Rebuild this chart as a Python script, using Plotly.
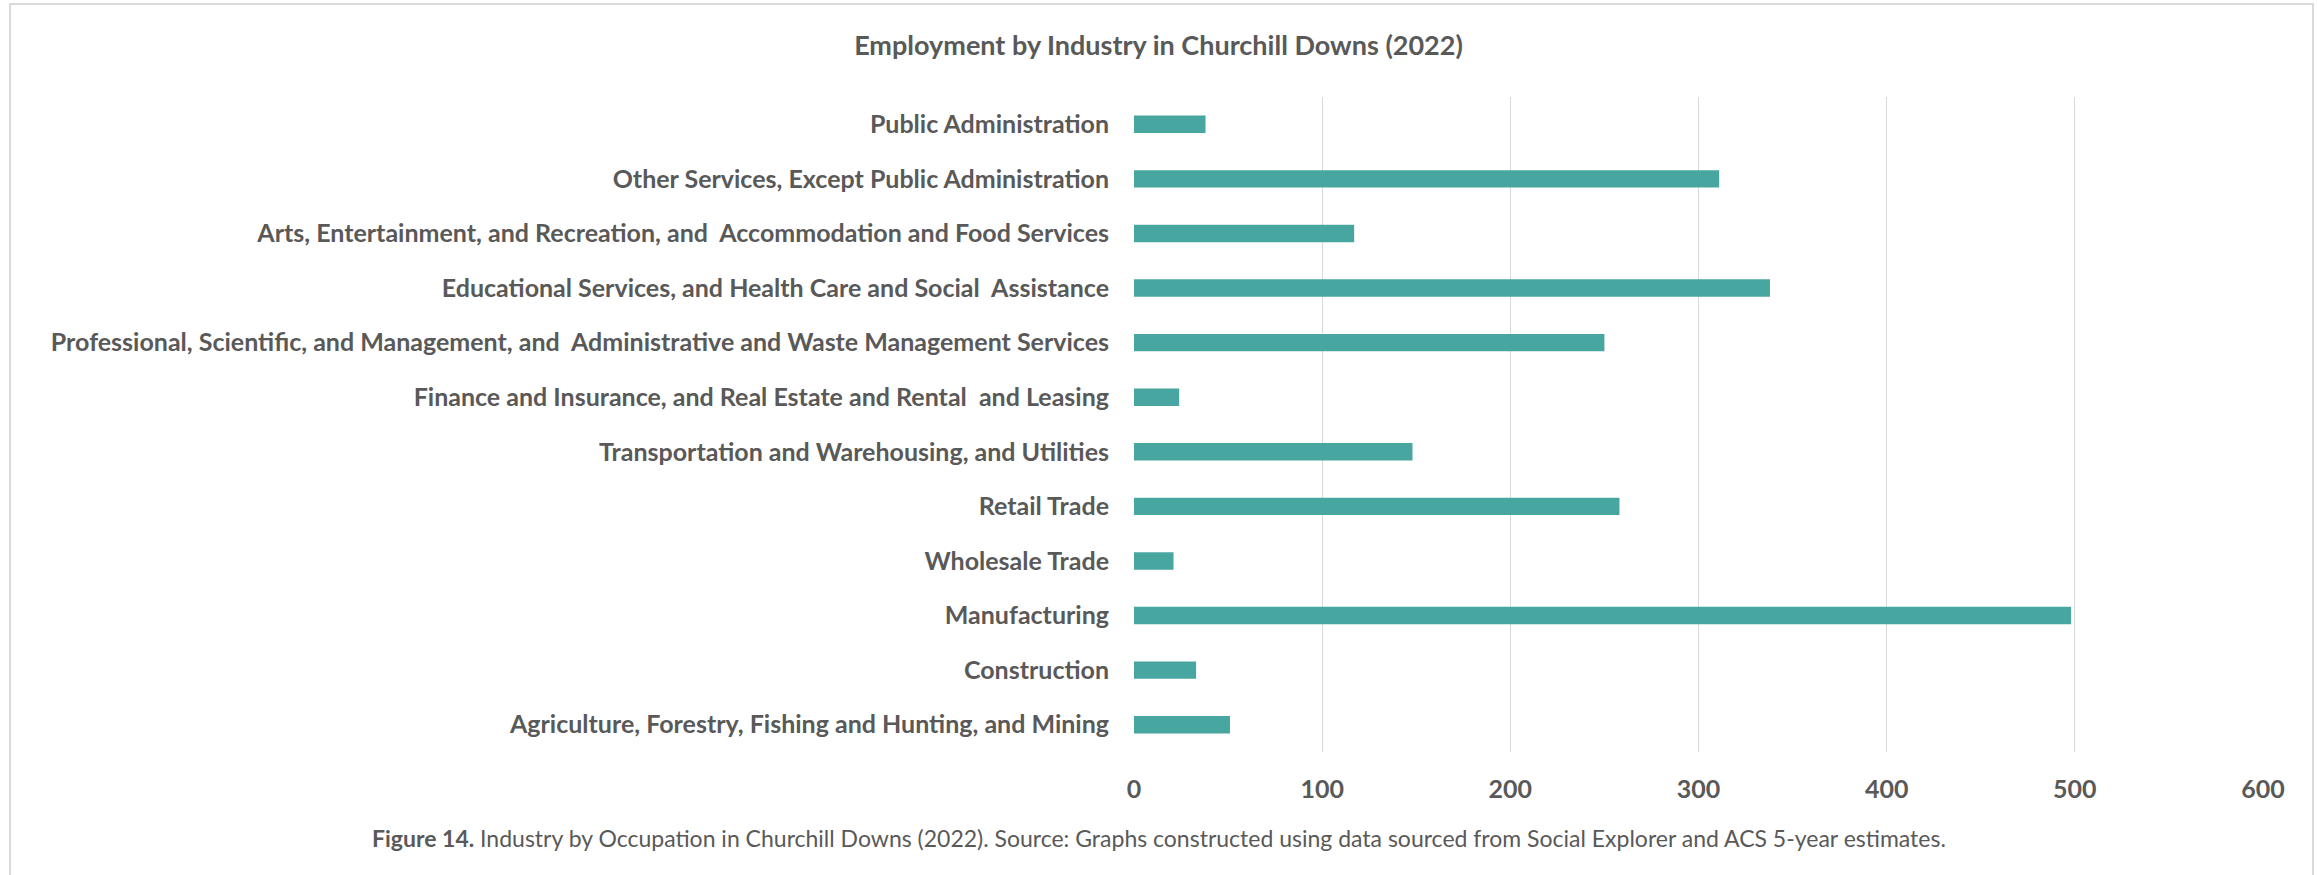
import plotly.graph_objects as go

# Employment counts by industry, bottom row first
industries = [
    "Agriculture, Forestry, Fishing and Hunting, and Mining",
    "Construction",
    "Manufacturing",
    "Wholesale Trade",
    "Retail Trade",
    "Transportation and Warehousing, and Utilities",
    "Finance and Insurance, and Real Estate and Rental \u00a0and Leasing",
    "Professional, Scientific, and Management, and \u00a0Administrative and Waste Management Services",
    "Educational Services, and Health Care and Social \u00a0Assistance",
    "Arts, Entertainment, and Recreation, and \u00a0Accommodation and Food Services",
    "Other Services, Except Public Administration",
    "Public Administration",
]
employed = [51, 33, 498, 21, 258, 148, 24, 250, 338, 117, 311, 38]
x_ticks = [0, 100, 200, 300, 400, 500, 600]

W, H = 2317, 875
L, R, T, B = 1134, 54, 97, 123
plot_w = W - L - R
plot_h = H - T - B

def px_x(px):
    return (px - L) / plot_w

def px_y(py):
    return (H - B - py) / plot_h

TEXT = "#595959"
FONT = "Lato"

fig = go.Figure(
    go.Bar(
        x=employed,
        y=industries,
        orientation="h",
        marker=dict(color="#48A6A0", line=dict(width=0)),
        width=0.32,
    )
)

fig.update_layout(
    width=W,
    height=H,
    margin=dict(l=L, r=R, t=T, b=B),
    paper_bgcolor="white",
    plot_bgcolor="white",
    showlegend=False,
    title=dict(
        text="<b>Employment by Industry in Churchill Downs (2022)</b>",
        x=0.5,
        xref="container",
        xanchor="center",
        y=1 - 46 / H,
        yref="container",
        yanchor="middle",
        font=dict(family=FONT, size=27, color=TEXT),
    ),
    xaxis=dict(
        range=[0, 600],
        tickvals=x_ticks,
        ticktext=[f"<b>{v}</b>" for v in x_ticks],
        showgrid=True,
        gridcolor="#D9D9D9",
        gridwidth=1.3,
        zeroline=False,
        showline=False,
        ticks="",
        ticklabelstandoff=20,
        tickfont=dict(family=FONT, size=25, color=TEXT),
    ),
    yaxis=dict(
        categoryorder="array",
        categoryarray=industries,
        tickvals=industries,
        ticktext=[f"<b>{s}</b>" for s in industries],
        showgrid=False,
        zeroline=False,
        showline=False,
        ticks="",
        ticklabelstandoff=24,
        tickfont=dict(family=FONT, size=25, color=TEXT),
        range=[-0.5, len(industries) - 0.5],
    ),
    annotations=[
        dict(
            text="<b>Figure 14.</b> Industry by Occupation in Churchill Downs (2022). "
                 "Source: Graphs constructed using data sourced from Social Explorer and ACS 5-year estimates.",
            xref="paper",
            yref="paper",
            x=px_x(W / 2),
            y=px_y(838),
            xanchor="center",
            yanchor="middle",
            showarrow=False,
            font=dict(family=FONT, size=23, color=TEXT),
        )
    ],
    shapes=[
        dict(
            type="rect",
            xref="paper",
            yref="paper",
            x0=px_x(10),
            x1=px_x(W - 4),
            y0=px_y(H + 10),
            y1=px_y(4),
            line=dict(color="#D9D9D9", width=2),
            fillcolor="rgba(0,0,0,0)",
            layer="below",
        )
    ],
)

fig.write_html("out.html")
